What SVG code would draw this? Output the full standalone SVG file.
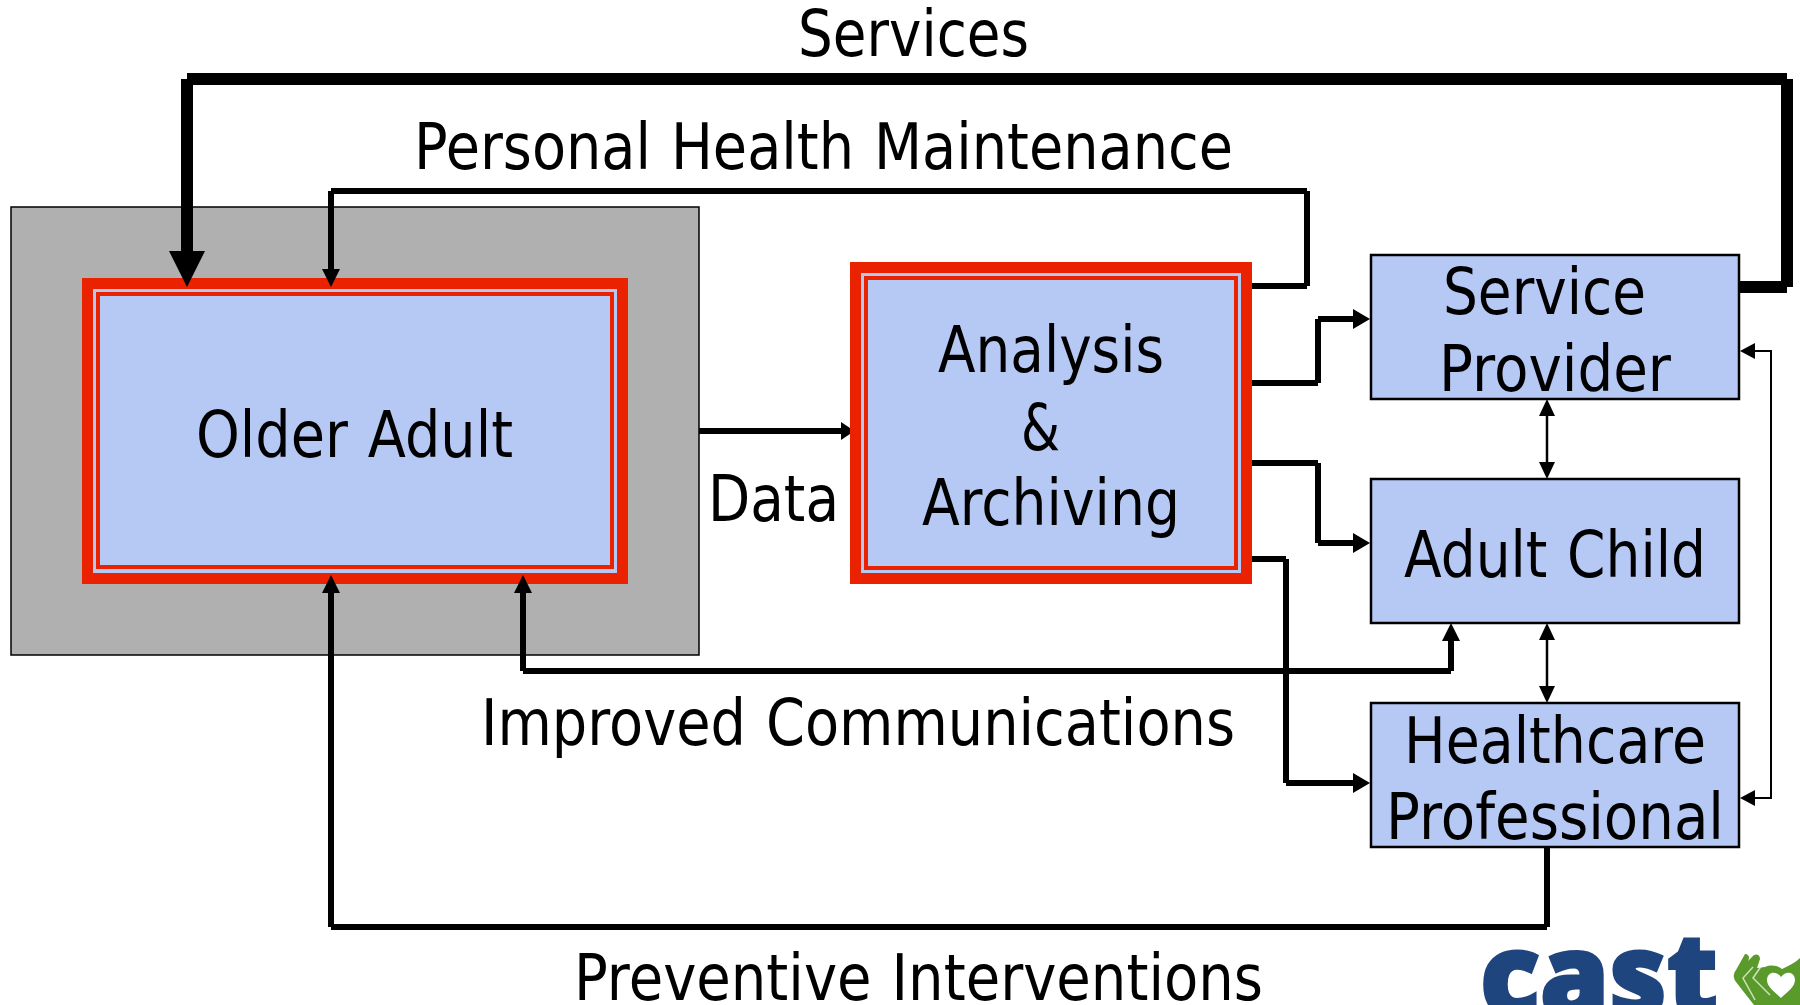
<svg xmlns="http://www.w3.org/2000/svg" width="1800" height="1005" viewBox="0 0 1800 1005">
<style>
text{font-family:"DejaVu Sans","Noto Sans",sans-serif;font-size:64px;fill:#000;word-spacing:2.5px}
.box{fill:#b6c8f4;stroke:#000;stroke-width:2.5}
.red{fill:#ea2200}.lav{fill:#b6c8f4}
.c{fill:none;stroke:#000;stroke-width:6;stroke-linecap:butt}
.h{fill:#000}
</style>
<rect width="1800" height="1005" fill="#fff"/>
<g id="older-adult-context"><rect x="11" y="207" width="688" height="448" fill="#b0b0b0" stroke="#000" stroke-width="1.5"/></g>
<g id="older-adult">
<rect class="red" x="82" y="278" width="546" height="306"/>
<rect class="lav" x="93" y="289" width="524" height="284"/>
<rect class="red" x="96" y="292" width="518" height="277"/>
<rect class="lav" x="100" y="296" width="510" height="269"/>
<text x="196" y="457" textLength="317" lengthAdjust="spacingAndGlyphs">Older Adult</text>
</g>
<g id="analysis">
<rect class="red" x="850" y="262" width="402" height="322"/>
<rect class="lav" x="861" y="273" width="380" height="300"/>
<rect class="red" x="864" y="276" width="374" height="294"/>
<rect class="lav" x="868" y="280" width="366" height="286"/>
<text x="938" y="372" textLength="226" lengthAdjust="spacingAndGlyphs">Analysis</text>
<text x="1021" y="450" textLength="39" lengthAdjust="spacingAndGlyphs">&amp;</text>
<text x="922" y="525" textLength="258" lengthAdjust="spacingAndGlyphs">Archiving</text>
</g>
<g id="service-provider">
<rect class="box" x="1371" y="255" width="368" height="144"/>
<text x="1443" y="314" textLength="203" lengthAdjust="spacingAndGlyphs">Service</text>
<text x="1439" y="391" textLength="232" lengthAdjust="spacingAndGlyphs">Provider</text>
</g>
<g id="adult-child">
<rect class="box" x="1371" y="479" width="368" height="144"/>
<text x="1404" y="577" textLength="302" lengthAdjust="spacingAndGlyphs">Adult Child</text>
</g>
<g id="healthcare-professional">
<rect class="box" x="1371" y="703" width="368" height="144"/>
<text x="1404" y="763" textLength="302" lengthAdjust="spacingAndGlyphs">Healthcare</text>
<text x="1386" y="839" textLength="338" lengthAdjust="spacingAndGlyphs">Professional</text>
</g>
<g id="connectors">
<path class="c" style="stroke-width:12" d="M1740 287H1787M1787 287V79M1787 79H187M187 79V255"/>
<polygon class="h" points="169,251 205,251 187,287"/>
<path class="c" d="M1252 286H1307M1307 286V191M1307 191H331M331 191V272"/>
<polygon class="h" points="322,269 340,269 331,287"/>
<path class="c" d="M699 431H845"/>
<polygon class="h" points="841,422 850,428 850,434 841,440"/>
<path class="c" d="M1252 383H1318M1318 383V319M1318 319H1356"/>
<polygon class="h" points="1353,309 1370,319 1353,329"/>
<path class="c" d="M1252 463H1318M1318 463V543M1318 543H1356"/>
<polygon class="h" points="1353,533 1370,543 1353,553"/>
<path class="c" d="M1252 559H1286M1286 559V783M1286 783H1356"/>
<polygon class="h" points="1353,773 1370,783 1353,793"/>
<path class="c" d="M523 590V671M523 671H1451M1451 671V640"/>
<polygon class="h" points="514,593 532,593 523,575"/>
<polygon class="h" points="1442,641 1460,641 1451,623"/>
<path class="c" d="M1547 847V927M1547 927H331M331 927V590"/>
<polygon class="h" points="322,593 340,593 331,575"/>
<path class="c" style="stroke-width:2.5" d="M1547 410V468"/>
<polygon class="h" points="1539,416 1555,416 1547,399"/>
<polygon class="h" points="1539,462 1555,462 1547,479"/>
<path class="c" style="stroke-width:2.5" d="M1547 634V692"/>
<polygon class="h" points="1539,640 1555,640 1547,623"/>
<polygon class="h" points="1539,686 1555,686 1547,703"/>
<path class="c" style="stroke-width:2" d="M1750 351H1771V798H1750"/>
<polygon class="h" points="1755,343 1755,359 1740,351"/>
<polygon class="h" points="1755,790 1755,806 1740,798"/>
</g>
<g id="labels">
<text x="798" y="56" textLength="231" lengthAdjust="spacingAndGlyphs">Services</text>
<text x="414" y="169" textLength="819" lengthAdjust="spacingAndGlyphs">Personal Health Maintenance</text>
<text x="708" y="521" textLength="131" lengthAdjust="spacingAndGlyphs">Data</text>
<text x="481" y="745" textLength="754" lengthAdjust="spacingAndGlyphs">Improved Communications</text>
<text x="574" y="1000" textLength="689" lengthAdjust="spacingAndGlyphs">Preventive Interventions</text>
</g>
<g id="logo">
<text x="1480" y="1016" textLength="238" lengthAdjust="spacingAndGlyphs" style="font-family:'Noto Sans',sans-serif;font-size:115px;font-weight:900;fill:#1f457f;stroke:#1f457f;stroke-width:3;word-spacing:0">cast</text>
<path d="M1745 954C1749 954 1750 958 1748 961L1752 957C1755 953 1760 954 1760 959L1757 968L1765 967C1772 964 1778 966 1782 969C1788 966 1795 963 1800 958V1005H1754L1736 982C1733 978 1733 974 1736 970Z" fill="#5a9a2a"/>
<path d="M1753 967L1743 978L1755 1000M1762 965L1753 978L1770 995" fill="none" stroke="#fff" stroke-width="1.5" opacity=".7"/>
<path d="M1781 977C1776 970 1767 972 1767 980C1767 987 1775 992 1781 998C1787 992 1795 987 1795 980C1795 972 1786 970 1781 977Z" fill="#fff"/>
</g>
</svg>
